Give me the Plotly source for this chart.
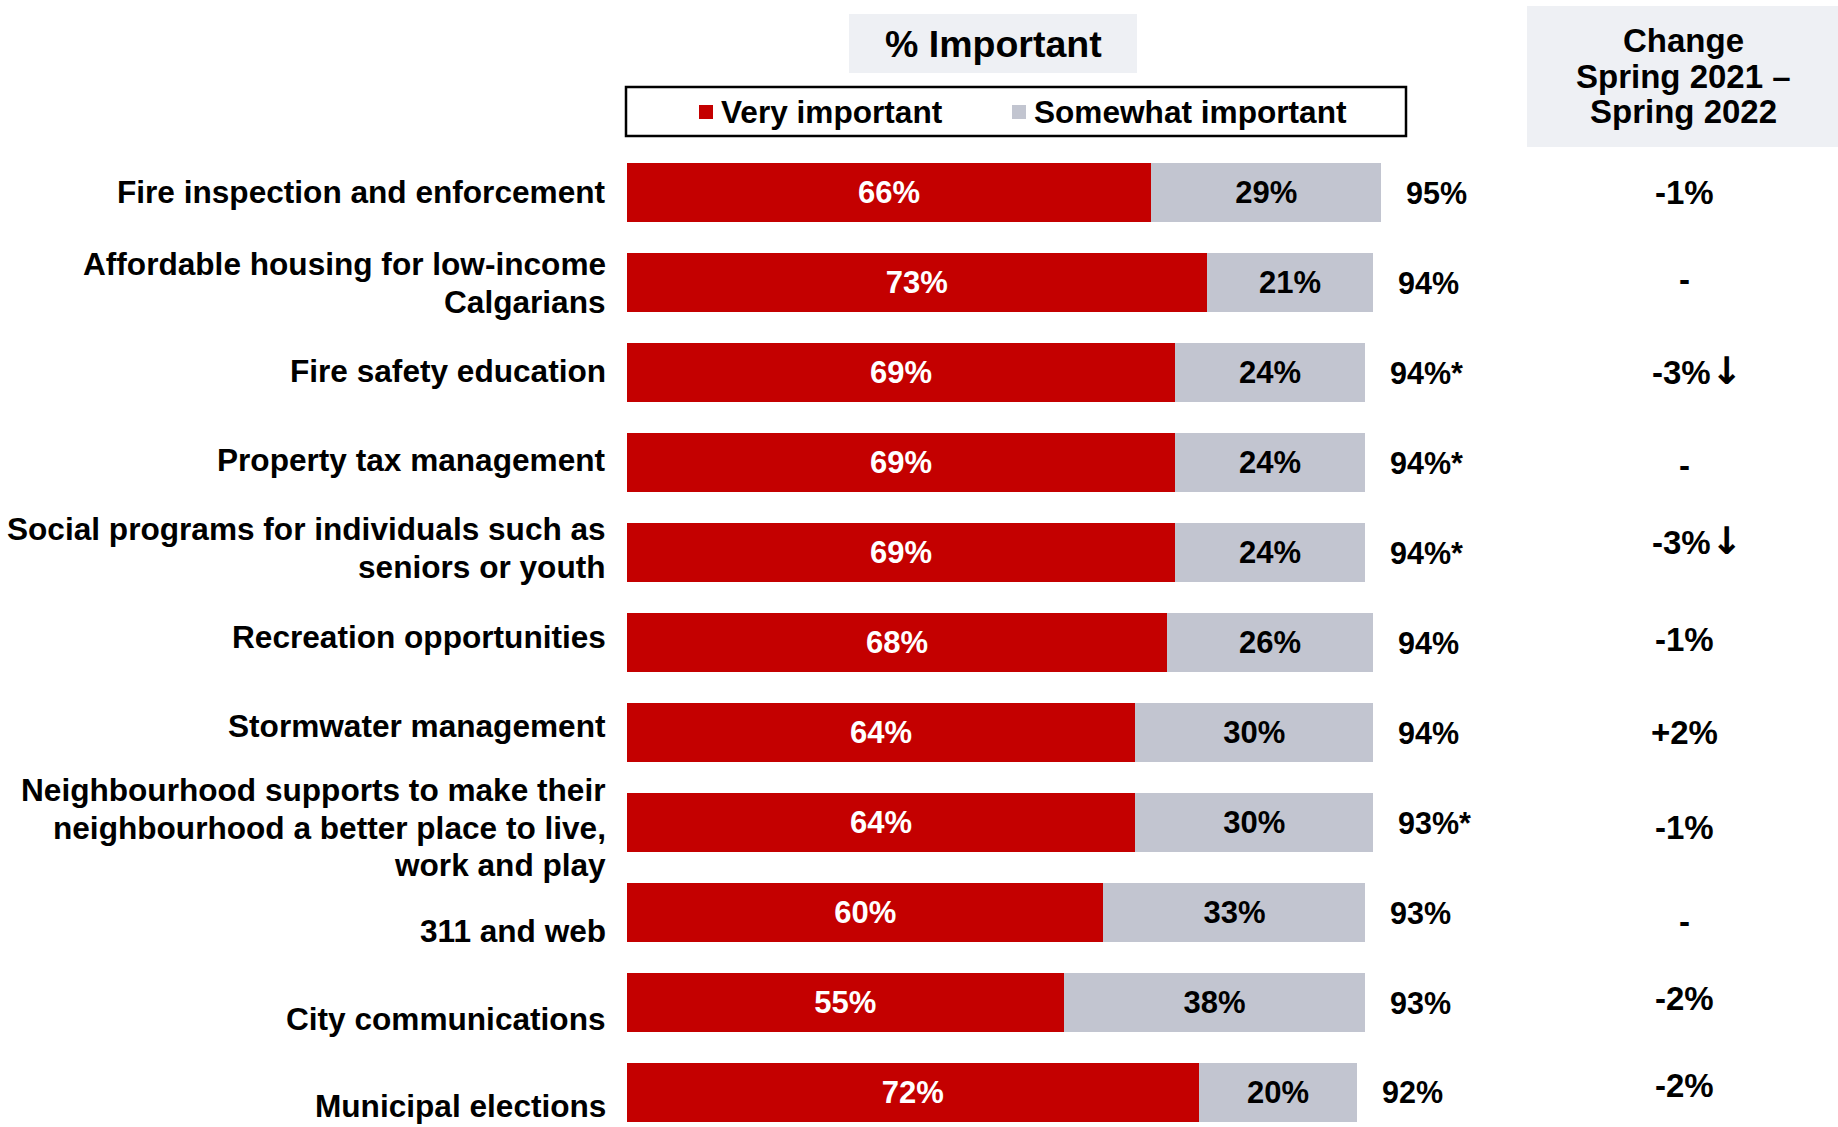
import plotly.graph_objects as go

# ---- data -------------------------------------------------------------
services = [
    "Fire inspection and enforcement",
    "Affordable housing for low-income<br>Calgarians",
    "Fire safety education",
    "Property tax management",
    "Social programs for individuals such as<br>seniors or youth",
    "Recreation opportunities",
    "Stormwater management",
    "Neighbourhood supports to make their<br>neighbourhood a better place to live,<br>work and play",
    "311 and web",
    "City communications",
    "Municipal elections",
]
very_important = [66, 73, 69, 69, 69, 68, 64, 64, 60, 55, 72]
somewhat_important = [29, 21, 24, 24, 24, 26, 30, 30, 33, 38, 20]
total_important = [95, 94, 94, 94, 94, 94, 94, 93, 93, 93, 92]
total_flag = ["", "", "*", "*", "*", "", "", "*", "", "", ""]
change_2021_2022 = ["-1%", "-", "-3%", "-", "-3%", "-1%", "+2%", "-1%", "-", "-2%", "-2%"]
significant_drop = [False, False, True, False, True, False, False, False, False, False, False]

# ---- styling ------------------------------------------------------------
RED = "#c40000"
GREY = "#c2c5d0"
HEADER_FILL = "#eef0f4"
SANS = "Liberation Sans, Arial, sans-serif"

W, H = 1838, 1127
L, T = 627, 148
PLOT_W, PLOT_H = W - L, H - T
PX_PER_PCT = 7.94
ROW_PX = 89.95
LABEL_LINE_PX = 37.5


def px(x):
    return (x - L) / PLOT_W


def py(y):
    return 1 - (y - T) / PLOT_H


# small vertical nudges (pixels) for the row text
label_nudge = [-1, 0, -2, -3, -5, -6, -7, 5, 18, 16, 14]
change_nudge = [0, -3, -2, 3, -12, -3, 0, 5, 9, -4, -7]

cats = services
fig = go.Figure()
fig.add_trace(go.Bar(
    y=cats, x=very_important, orientation="h", name="Very important",
    marker=dict(color=RED, line=dict(width=0)),
    text=[f"{v}%" for v in very_important], textposition="inside",
    insidetextanchor="middle", textangle=0,
    textfont=dict(family=SANS, size=31, color="white", weight="bold"),
    showlegend=False, hoverinfo="skip",
))
fig.add_trace(go.Bar(
    y=cats, x=somewhat_important, orientation="h", name="Somewhat important",
    marker=dict(color=GREY, line=dict(width=0)),
    text=[f"{v}%" for v in somewhat_important], textposition="inside",
    insidetextanchor="middle", textangle=0,
    textfont=dict(family=SANS, size=31, color="black", weight="bold"),
    showlegend=False, hoverinfo="skip",
))

annotations = []
shapes = []

# category labels to the left of the bars (one annotation per line so the
# line spacing stays tight)
for i, name in enumerate(services):
    lines = name.split("<br>")
    n = len(lines)
    for k, line in enumerate(lines):
        offset = (k - (n - 1) / 2) * LABEL_LINE_PX + label_nudge[i]
        annotations.append(dict(
            xref="paper", yref="y", x=px(608), y=name, xanchor="right",
            yanchor="middle", align="right", showarrow=False, text=line,
            yshift=-offset,
            font=dict(family=SANS, size=31.6, color="black", weight="bold"),
        ))

# total % important after each stacked bar
for i, name in enumerate(services):
    end = very_important[i] + somewhat_important[i]
    annotations.append(dict(
        xref="x", yref="y", x=end, y=name, xanchor="left", xshift=23,
        yanchor="middle", showarrow=False,
        text=f"{total_important[i]}%{total_flag[i]}",
        font=dict(family=SANS, size=30.5, color="black", weight="bold"),
    ))

# change column
for i, name in enumerate(services):
    txt = change_2021_2022[i]
    if significant_drop[i]:
        annotations.append(dict(
            xref="paper", yref="y", x=px(1650), y=name, xanchor="left",
            yanchor="middle", showarrow=False,
            text=txt + "<span style='font-family:DejaVu Sans;font-size:38px'>\u2193</span>",
            yshift=-change_nudge[i],
            font=dict(family=SANS, size=33, color="black", weight="bold"),
        ))
    else:
        annotations.append(dict(
            xref="paper", yref="y", x=px(1684), y=name, xanchor="center",
            yanchor="middle", showarrow=False, text=txt,
            yshift=-change_nudge[i],
            font=dict(family=SANS, size=33, color="black", weight="bold"),
        ))

# header: % Important
shapes.append(dict(type="rect", xref="paper", yref="paper",
                   x0=px(849), x1=px(1137), y0=py(73), y1=py(14),
                   fillcolor=HEADER_FILL, line=dict(width=0), layer="below"))
annotations.append(dict(xref="paper", yref="paper", x=px(993), y=py(44),
                        xanchor="center", yanchor="middle", showarrow=False,
                        text="% Important",
                        font=dict(family=SANS, size=37.5, color="black", weight="bold")))

# header: change column
shapes.append(dict(type="rect", xref="paper", yref="paper",
                   x0=px(1527), x1=1.0, y0=py(147), y1=py(6),
                   fillcolor=HEADER_FILL, line=dict(width=0), layer="below"))
for line, yy in zip(["Change", "Spring 2021 \u2013", "Spring 2022"], [41, 76, 111]):
    annotations.append(dict(xref="paper", yref="paper", x=px(1683), y=py(yy),
                            xanchor="center", yanchor="middle", showarrow=False,
                            text=line,
                            font=dict(family=SANS, size=33, color="black", weight="bold")))

# legend box
shapes.append(dict(type="rect", xref="paper", yref="paper",
                   x0=px(626), x1=px(1406), y0=py(136), y1=py(87),
                   fillcolor="white", line=dict(color="black", width=2.5)))
for color, x0, label in [(RED, 699, "Very important"), (GREY, 1012, "Somewhat important")]:
    shapes.append(dict(type="rect", xref="paper", yref="paper",
                       x0=px(x0), x1=px(x0 + 14), y0=py(119), y1=py(105),
                       fillcolor=color, line=dict(width=0)))
    annotations.append(dict(xref="paper", yref="paper", x=px(x0 + 20), y=py(112),
                            xanchor="left", yanchor="middle", showarrow=False,
                            text=label,
                            font=dict(family=SANS, size=31.6, color="black", weight="bold")))

fig.update_layout(
    width=W, height=H,
    margin=dict(l=L, r=0, t=T, b=0, pad=0),
    paper_bgcolor="white", plot_bgcolor="white",
    barmode="stack", bargap=0.344,
    xaxis=dict(range=[0, PLOT_W / PX_PER_PCT], visible=False, fixedrange=True),
    yaxis=dict(type="category", categoryorder="array", categoryarray=cats,
               range=[PLOT_H / ROW_PX - 0.5, -0.5], visible=False, fixedrange=True),
    annotations=annotations, shapes=shapes,
    uniformtext=dict(mode=False),
)

fig.write_html("out.html")
